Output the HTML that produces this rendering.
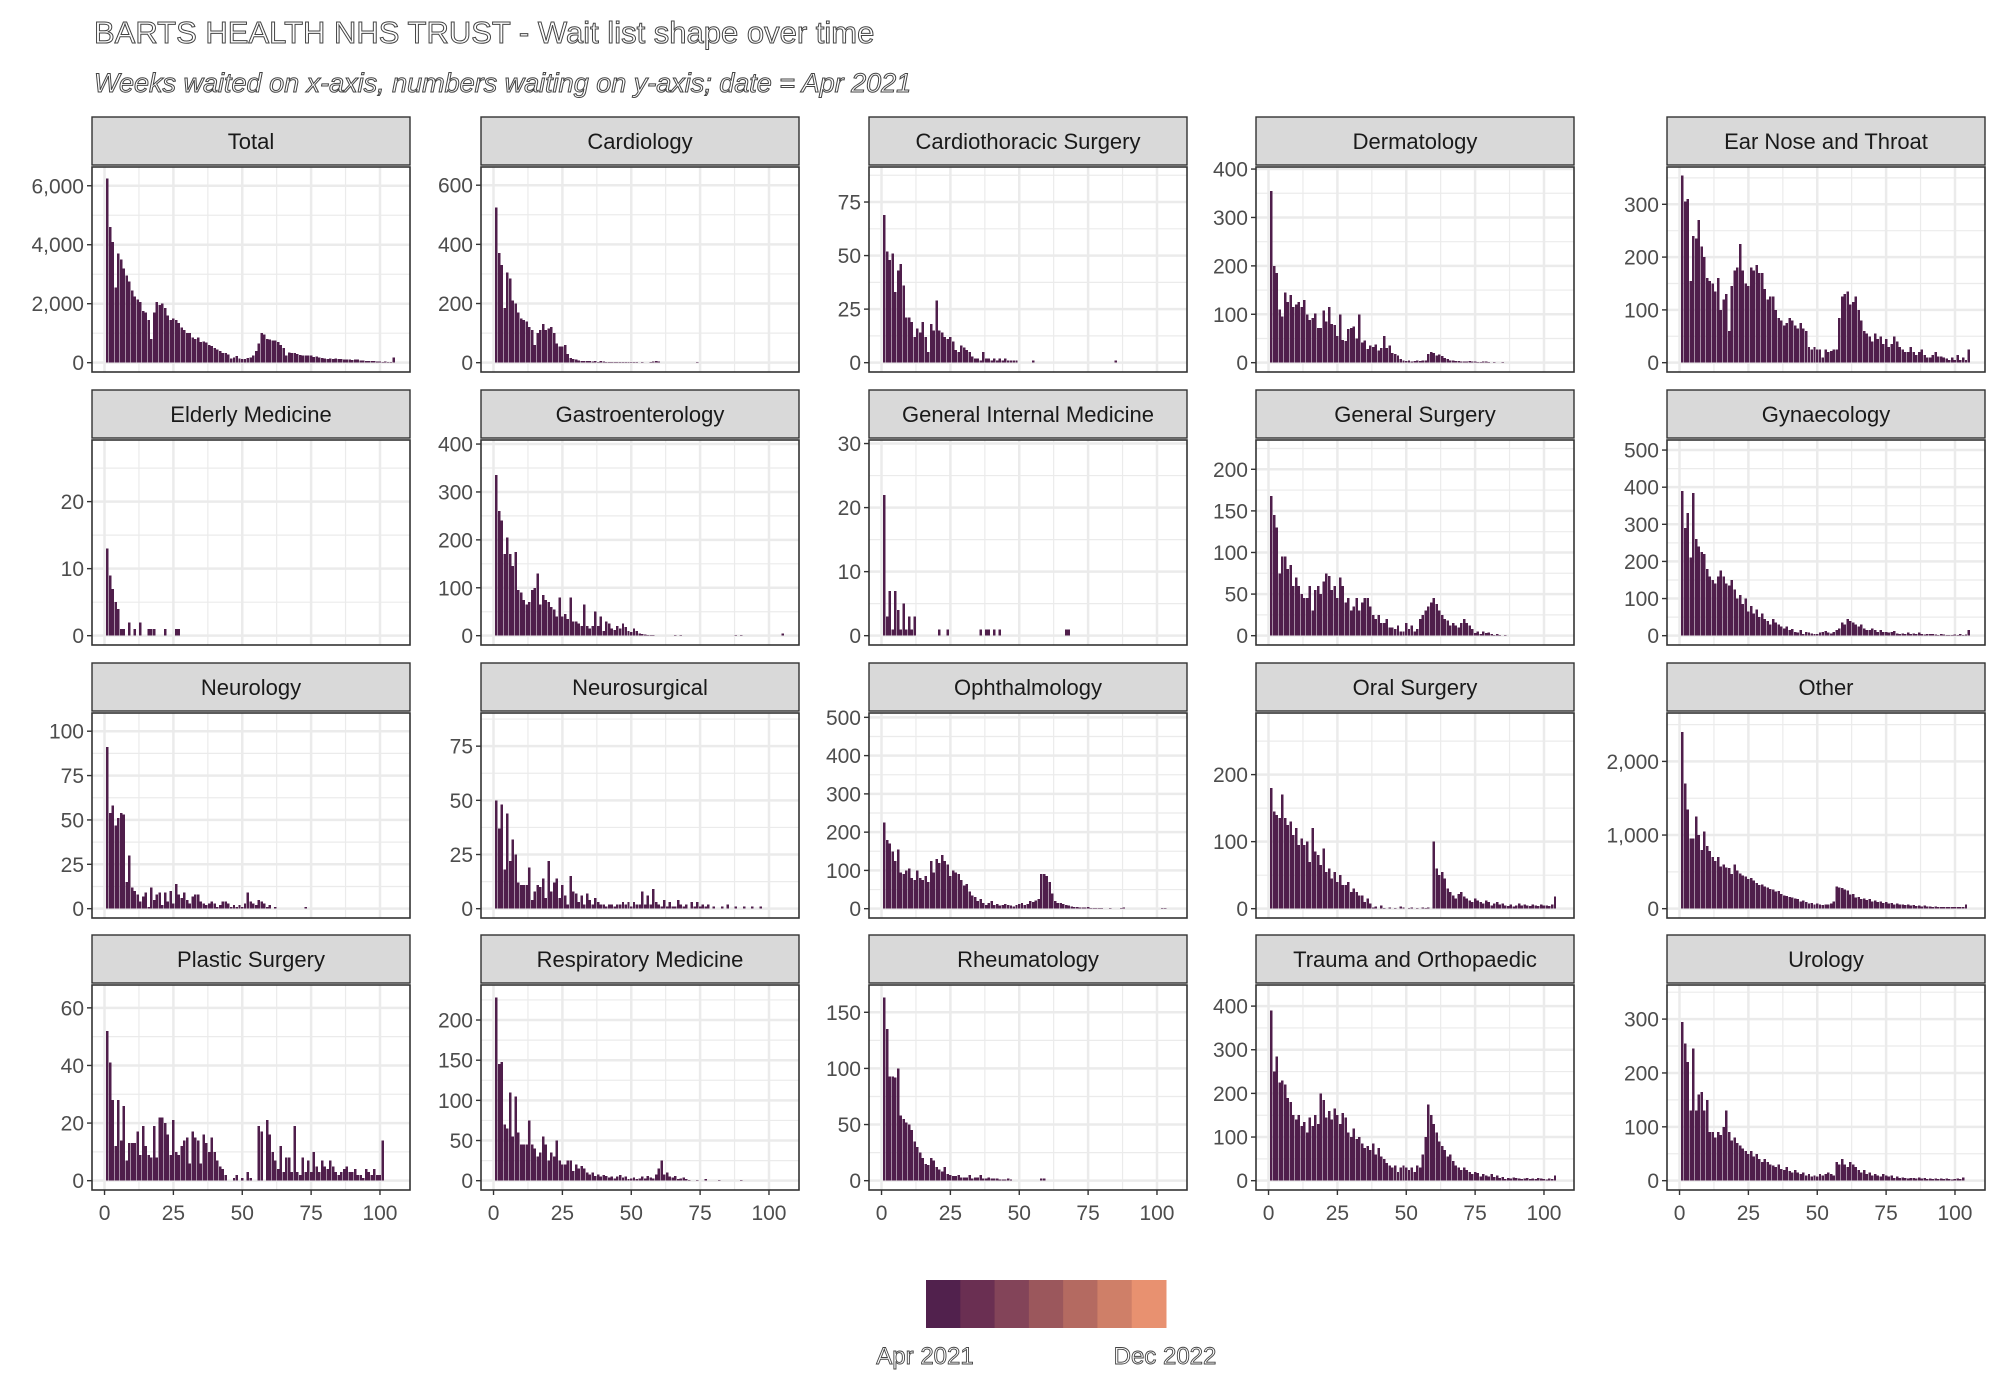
<!DOCTYPE html>
<html><head><meta charset="utf-8"><style>
body{margin:0;background:#fff;width:2000px;height:1400px;overflow:hidden;font-family:"Liberation Sans",sans-serif}
</style></head><body>
<svg id="chart" width="2000" height="1400" xmlns="http://www.w3.org/2000/svg" style="position:absolute;left:0;top:0">
<text x="94" y="43" font-size="31" fill="#fff" stroke="#444" stroke-width="1" font-family="Liberation Sans, sans-serif">BARTS HEALTH NHS TRUST - Wait list shape over time</text>
<text x="94" y="92" font-size="27" font-style="italic" fill="#fff" stroke="#444" stroke-width="1" font-family="Liberation Sans, sans-serif">Weeks waited on x-axis, numbers waiting on y-axis; date = Apr 2021</text>
<g id="panels"></g>
<g id="legend"></g>
</svg>
<script>
const panelNames=["Total","Cardiology","Cardiothoracic Surgery","Dermatology","Ear Nose and Throat","Elderly Medicine","Gastroenterology","General Internal Medicine","General Surgery","Gynaecology","Neurology","Neurosurgical","Ophthalmology","Oral Surgery","Other","Plastic Surgery","Respiratory Medicine","Rheumatology","Trauma and Orthopaedic","Urology"];
const yMaxes=[6320,630,87,385,353,27.8,389,29.1,224,502,105,86,487,278,2531,64.7,232,166,427,346];
const yTicks=[[0,2000,4000,6000],[0,200,400,600],[0,25,50,75],[0,100,200,300,400],[0,100,200,300],[0,10,20],[0,100,200,300,400],[0,10,20,30],[0,50,100,150,200],[0,100,200,300,400,500],[0,25,50,75,100],[0,25,50,75],[0,100,200,300,400,500],[0,100,200],[0,1000,2000],[0,20,40,60],[0,50,100,150,200],[0,50,100,150],[0,100,200,300,400],[0,100,200,300]];
const xTicks=[0,25,50,75,100];
const dTotal=[6250,4600,4100,2550,3700,3500,3200,2950,2750,2450,2250,2150,2050,1750,1700,1450,800,1700,2050,1950,2000,1850,1600,1450,1500,1450,1350,1200,1100,1000,1000,850,800,850,700,720,680,600,560,500,450,400,330,320,280,150,180,230,150,130,130,160,180,250,400,650,1000,950,800,780,760,750,700,600,500,250,340,330,320,290,260,250,250,240,240,200,210,170,160,140,130,140,120,150,130,120,110,100,100,90,110,100,80,70,60,50,60,50,40,40,30,40,30,20,170];
const dCardiology=[525,370,330,185,305,285,210,200,170,150,145,140,120,110,60,100,110,130,110,115,120,100,65,55,55,60,30,15,12,10,8,6,5,5,5,4,5,3,5,4,3,2,2,3,2,2,2,2,2,3,2,2,1,2,1,1,2,4,5,4,1,1,0,0,0,0,0,0,0,0,0,0,0,2];
const dCardiothoracic=[69,52,48,51,33,43,46,36,21,21,19,12,16,14,19,12,5,18,15,29,15,14,12,11,12,10,6,5,8,7,6,5,3,2,2,1,5,2,2,1,2,1,2,1,2,1,1,1,1,0,0,0,0,0,1,0,0,0,0,0,0,0,0,0,0,0,0,0,0,0,0,0,0,0,0,0,0,0,0,0,0,0,0,0,1];
const dDermatology=[355,200,185,110,95,145,125,140,115,120,125,115,130,100,88,92,102,72,72,108,85,115,80,78,55,100,47,45,70,72,75,50,100,42,46,28,35,32,38,25,30,55,30,35,20,18,15,8,5,3,4,2,3,4,3,5,4,18,22,20,15,17,14,10,8,5,5,3,3,2,2,2,3,2,2,1,1,2,2,1,0,1,0,0,1];
const dENT=[355,305,310,155,240,235,270,220,200,160,155,150,135,160,100,120,130,60,145,175,180,225,175,150,145,180,175,185,170,170,140,120,125,125,100,85,80,70,75,85,80,70,65,75,65,60,30,25,30,25,25,10,25,20,22,25,25,85,125,130,135,110,115,125,100,80,60,55,50,40,55,45,50,35,45,30,35,50,40,30,25,20,20,30,20,15,20,25,15,10,10,15,20,12,12,10,8,5,10,5,15,5,10,5,25];
const dElderly=[13,9,7,5,4,1,1,0,2,0,1,0,2,0,0,1,1,1,0,0,0,1,0,0,0,1,1];
const dGastro=[335,260,240,170,205,170,145,175,95,90,75,65,70,95,100,130,65,85,75,70,60,55,40,80,40,45,35,80,30,30,25,20,65,20,15,20,50,20,40,10,30,25,15,12,20,15,25,18,10,8,15,10,5,3,2,1,1,1,0,0,0,0,0,0,0,1,0,1,0,0,0,0,0,0,0,0,0,0,0,0,0,0,0,0,0,0,0,1,0,1,0,0,0,0,0,0,0,0,0,0,0,0,0,0,5];
const dGIM=[22,3,7,1,7,4,1,5,1,3,1,3,0,0,0,0,0,0,0,0,1,0,0,1,0,0,0,0,0,0,0,0,0,0,0,1,0,1,1,0,1,0,1,0,0,0,0,0,0,0,0,0,0,0,0,0,0,0,0,0,0,0,0,0,0,0,1,1];
const dGenSurg=[168,145,130,75,95,95,80,85,60,70,60,50,45,45,60,30,55,60,50,65,75,72,55,60,45,70,60,40,45,30,35,45,30,40,45,45,35,25,20,25,15,15,20,10,10,8,12,5,5,15,8,12,5,8,20,25,30,35,40,45,38,30,25,20,18,12,15,12,10,15,20,15,12,8,3,5,2,5,3,4,2,1,2,1,0,1];
const dGynae=[390,290,330,210,385,260,240,225,220,180,160,150,140,160,175,160,140,135,150,125,100,110,85,100,65,80,60,70,50,60,45,40,30,45,35,30,25,20,25,15,18,10,8,15,5,10,8,6,5,4,8,10,12,8,6,10,15,20,35,30,45,40,35,30,25,30,20,15,15,20,15,10,15,10,10,8,10,12,6,5,6,4,8,5,6,5,8,4,3,5,5,4,3,2,4,3,2,2,2,3,2,4,2,3,15];
const dNeurology=[91,54,58,47,51,54,53,15,30,12,10,8,4,7,9,1,12,5,8,9,2,9,4,10,3,14,8,6,9,5,3,7,8,8,4,3,2,3,4,3,1,2,4,4,3,1,2,1,2,1,3,9,4,3,2,5,4,3,1,2,0,1,0,0,0,0,0,0,0,0,0,0,1];
const dNeurosurg=[50,37,48,18,44,22,32,25,12,11,11,11,19,4,8,11,10,14,5,22,8,12,14,5,11,6,2,15,8,7,3,6,2,7,4,2,5,3,2,2,1,2,2,1,2,2,3,2,3,1,3,2,2,8,2,6,2,9,3,2,1,4,1,3,1,1,4,2,1,2,0,3,1,3,1,2,1,2,0,1,0,0,1,0,2,0,0,1,0,0,1,0,0,1,0,0,1];
const dOphth=[225,180,170,150,125,155,95,90,100,105,80,75,100,80,75,85,70,125,95,130,120,140,125,115,85,100,95,90,75,60,65,45,35,30,20,25,15,10,15,20,10,12,8,10,12,10,8,6,10,12,15,10,12,20,18,22,25,90,90,85,70,40,20,15,15,12,10,8,6,5,5,3,3,3,4,2,2,2,2,2,1,1,2,1,1,1,2,3,1,0,0,1,0,0,0,0,0,0,0,0,0,2,2];
const dOral=[180,145,140,135,170,135,125,130,110,120,95,105,95,100,70,120,85,80,65,90,55,60,45,55,40,50,35,35,40,25,30,25,20,20,10,15,8,2,3,0,5,1,0,2,0,1,0,3,2,0,1,2,0,1,0,2,1,2,0,100,60,50,55,45,30,25,20,15,22,25,18,15,12,10,15,12,10,8,12,10,5,8,10,6,8,5,4,6,3,5,8,5,6,5,4,6,5,4,6,5,5,4,6,18];
const dOther=[2400,1700,1350,950,950,1250,1000,800,1050,850,780,700,650,700,570,600,560,550,470,600,520,480,450,440,400,420,380,350,320,330,300,290,270,260,230,240,200,180,170,160,150,140,130,100,110,90,70,80,60,70,60,50,60,60,70,100,300,290,280,260,250,190,200,150,160,130,140,120,130,100,110,90,100,80,90,70,80,60,70,55,60,50,60,40,50,35,40,30,40,30,30,25,30,25,25,20,25,20,20,25,20,20,25,60];
const dPlastic=[52,41,28,12,28,14,26,7,13,13,13,17,9,19,12,9,8,19,8,22,22,20,16,9,21,10,9,12,14,15,6,17,15,14,6,16,13,10,15,10,7,5,4,2,0,0,1,2,0,1,0,3,1,0,0,19,17,0,21,16,10,7,4,12,3,8,8,3,19,3,2,8,3,7,3,10,5,3,7,5,4,7,5,3,2,3,4,5,3,3,4,2,2,1,4,3,2,4,2,2,14];
const dResp=[228,145,148,70,65,110,55,105,60,45,45,45,75,45,40,30,35,55,45,25,35,30,50,25,20,20,25,25,12,20,15,18,15,10,8,10,6,8,5,7,6,4,5,3,5,7,4,5,2,3,4,2,3,5,3,6,4,3,8,15,25,8,10,5,4,6,2,3,4,2,1,0,0,1,0,0,2,0,0,0,0,1,0,0,0,0,0,0,0,1];
const dRheum=[163,135,93,93,92,100,58,55,52,50,45,35,30,25,20,15,14,20,18,12,10,8,12,6,5,4,4,5,3,3,3,5,2,3,3,5,2,2,3,2,2,2,1,1,1,2,1,0,0,0,0,0,0,0,0,0,0,2,2];
const dTO=[390,250,285,225,230,220,190,180,150,140,150,125,135,110,145,125,150,130,200,185,145,160,140,165,150,130,155,145,110,100,120,95,100,85,75,80,70,85,60,75,55,50,40,35,30,35,20,30,35,30,25,30,20,35,30,60,100,175,150,130,110,90,80,70,55,60,45,35,30,25,30,25,20,15,20,18,10,15,12,10,15,8,12,6,8,4,6,5,7,6,5,4,5,6,4,5,4,6,5,4,3,5,4,12];
const dUrology=[295,255,220,130,245,130,160,165,130,150,90,90,80,90,85,100,130,90,75,80,70,65,60,55,50,55,45,50,40,35,40,35,30,28,25,30,22,20,25,18,15,20,15,12,15,10,12,8,10,8,12,10,12,15,12,10,35,30,40,30,25,35,30,25,20,15,20,12,15,10,12,10,8,12,10,8,10,5,8,5,6,5,4,5,5,4,6,4,5,3,4,3,4,3,4,3,4,3,2,3,4,3,6];
const panelData=[dTotal,dCardiology,dCardiothoracic,dDermatology,dENT,dElderly,dGastro,dGIM,dGenSurg,dGynae,dNeurology,dNeurosurg,dOphth,dOral,dOther,dPlastic,dResp,dRheum,dTO,dUrology];
const legendColors=["#51214d","#6a2f52","#834459","#9b575c","#b46a61","#cf7f68","#e89170"];
const legendLabels=["Apr 2021","Dec 2022"];

const NS="http://www.w3.org/2000/svg";
const colLeft=[92,481,869,1256,1667],stripTop=[117,390,663,935];
const PW=318,PH=205,SH=48;
const X0=-4.55,X1=110.9;
function mk(tag,attrs,parent){const e=document.createElementNS(NS,tag);for(const k in attrs)e.setAttribute(k,attrs[k]);parent.appendChild(e);return e;}
const root=document.getElementById('panels');
const fmt=v=>v>=1000?v.toLocaleString('en-US'):String(v);
panelNames.forEach((name,i)=>{
  const r=Math.floor(i/5),c=i%5;
  const L=colLeft[c],ST=stripTop[r],T=ST+SH+2;
  const M=yMaxes[i];
  const ylo=-0.05*M,yhi=1.05*M;
  const xs=v=>L+(v-X0)/(X1-X0)*PW;
  const ys=v=>T+PH-(v-ylo)/(yhi-ylo)*PH;
  const g=mk('g',{},root);
  
  
  const strip=mk('rect',{x:L,y:ST,width:PW,height:SH,fill:'#d9d9d9',stroke:'#333','stroke-width':1.4},g);
  
  
  const st=mk('text',{x:L+PW/2,y:ST+SH/2+8,'text-anchor':'middle','font-size':22,fill:'#1a1a1a'},g);
  st.textContent=name;
  
  
  mk('rect',{x:L,y:T,width:PW,height:PH,fill:'#fff'},g);
  const tk=yTicks[i],step=tk[1]-tk[0];
  for(let v=step/2;v<yhi;v+=step){mk('line',{x1:L,x2:L+PW,y1:ys(v),y2:ys(v),stroke:'#ebebeb','stroke-width':1.2},g);}
  for(let v=12.5;v<X1;v+=25){mk('line',{x1:xs(v),x2:xs(v),y1:T,y2:T+PH,stroke:'#ebebeb','stroke-width':1.2},g);}
  tk.forEach(v=>mk('line',{x1:L,x2:L+PW,y1:ys(v),y2:ys(v),stroke:'#ebebeb','stroke-width':2.5},g));
  xTicks.forEach(v=>mk('line',{x1:xs(v),x2:xs(v),y1:T,y2:T+PH,stroke:'#ebebeb','stroke-width':2.5},g));
  const bw=0.9*PW/(X1-X0);
  panelData[i].forEach((v,k)=>{
    if(v<=0)return;
    const b=mk('rect',{x:xs(k+1)-bw/2,y:ys(v),width:bw,height:ys(0)-ys(v),fill:'#4f1e4b','shape-rendering':'crispEdges'},g);
    
    
  });
  mk('rect',{x:L,y:T,width:PW,height:PH,fill:'none',stroke:'#333','stroke-width':1.6},g);
  tk.forEach(v=>{
    mk('line',{x1:L-5,x2:L,y1:ys(v),y2:ys(v),stroke:'#333','stroke-width':1.4},g);
    const t=mk('text',{x:L-8,y:ys(v)+7.5,'text-anchor':'end','font-size':21,fill:'#4d4d4d'},g);
    t.textContent=fmt(v);
    
    
  });
  if(r===3){
    xTicks.forEach(v=>{
      mk('line',{x1:xs(v),x2:xs(v),y1:T+PH,y2:T+PH+5,stroke:'#333','stroke-width':1.4},g);
      const t=mk('text',{x:xs(v),y:T+PH+30,'text-anchor':'middle','font-size':21,fill:'#4d4d4d'},g);
      t.textContent=v;
      
      
    });
  }
});
const lg=document.getElementById('legend');
const lw=240/legendColors.length;
legendColors.forEach((col,k)=>{
  const s=mk('rect',{x:926+k*lw,y:1280,width:lw+0.5,height:48,fill:col},lg);
  
  
});
legendLabels.forEach((lab,k)=>{
  const t=mk('text',{x:k===0?925:1165,y:1364,'text-anchor':'middle','font-size':24,fill:'#fff',stroke:'#444','stroke-width':0.9},lg);
  t.textContent=lab;
  
  
});
</script>
</body></html>
